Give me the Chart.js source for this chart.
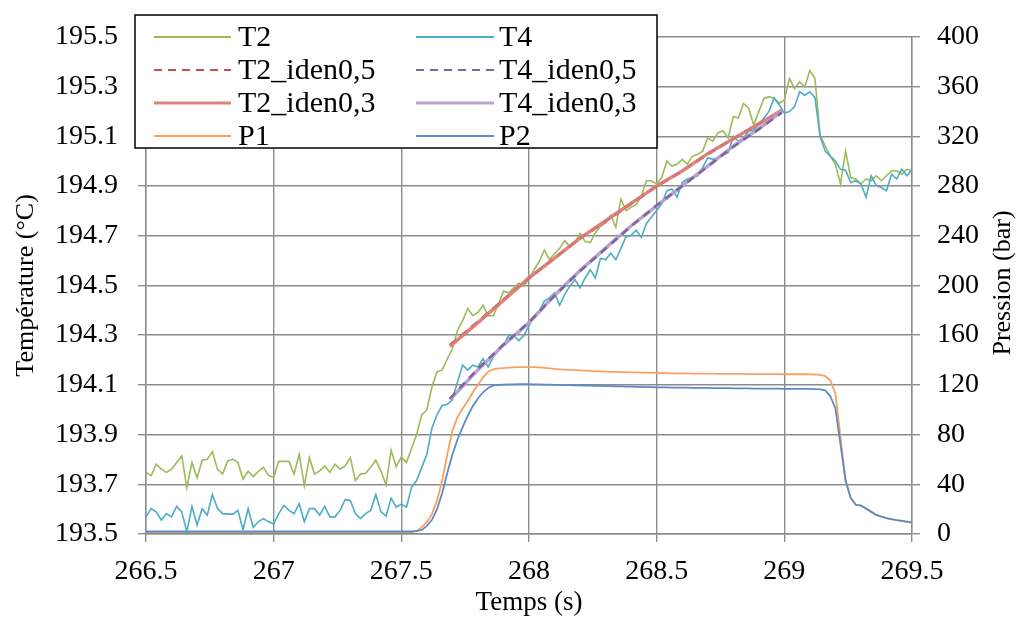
<!DOCTYPE html>
<html>
<head>
<meta charset="utf-8">
<script src="https://cdn.jsdelivr.net/npm/chart.js@4.4.1/dist/chart.umd.min.js"></script>
<style>
    html, body { margin: 0; padding: 0; background: #fff; }
    #wrap { width: 1023px; height: 619px; position: relative; }
</style>
</head>
<body>
<div id="wrap"><canvas id="myChart"></canvas></div>
<script>
// sampling: one point every 0.02 s from 266.5 s to 269.5 s
const t0 = 266.5;
const dt = 0.02;

// temperatures (°C)
const T2 = [
    193.748, 193.735, 193.781, 193.761, 193.748, 193.761, 193.788, 193.814, 193.686, 193.788,
    193.725, 193.797, 193.801, 193.831, 193.761, 193.741, 193.794, 193.801, 193.788, 193.721,
    193.752, 193.731, 193.752, 193.768, 193.735, 193.728, 193.792, 193.792, 193.792, 193.741,
    193.821, 193.695, 193.807, 193.741, 193.754, 193.774, 193.748, 193.781, 193.761, 193.774,
    193.807, 193.715, 193.741, 193.744, 193.768, 193.797, 193.754, 193.698, 193.837, 193.771,
    193.810, 193.788, 193.844, 193.900, 193.980, 194.000, 194.092, 194.152, 194.159, 194.205,
    194.245, 194.318, 194.358, 194.407, 194.378, 194.391, 194.420, 194.378, 194.378, 194.424,
    194.477, 194.470, 194.490, 194.510, 194.497, 194.525, 194.563, 194.596, 194.642, 194.605,
    194.627, 194.649, 194.680, 194.656, 194.672, 194.709, 194.676, 194.672, 194.712, 194.738,
    194.751, 194.782, 194.735, 194.848, 194.801, 194.815, 194.825, 194.861, 194.921, 194.921,
    194.908, 194.935, 195.000, 194.980, 194.987, 195.007, 194.987, 195.020, 195.027, 195.040,
    195.093, 195.080, 195.113, 195.122, 195.093, 195.179, 195.173, 195.232, 195.213, 195.146,
    195.199, 195.252, 195.259, 195.252, 195.232, 195.246, 195.332, 195.292, 195.318, 195.298,
    195.365, 195.332, 195.106, 195.060, 195.020, 194.987, 194.908, 195.040, 194.934, 194.928,
    194.908, 194.928, 194.921, 194.941, 194.921, 194.941, 194.961, 194.961, 194.947, 194.967,
    194.961
];
const T4 = [
    193.569, 193.602, 193.589, 193.556, 193.582, 193.569, 193.611, 193.589, 193.509, 193.611,
    193.536, 193.602, 193.576, 193.659, 193.602, 193.582, 193.580, 193.580, 193.595, 193.516,
    193.602, 193.527, 193.549, 193.562, 193.549, 193.540, 193.582, 193.615, 193.595, 193.582,
    193.622, 193.549, 193.602, 193.602, 193.576, 193.611, 193.569, 193.569, 193.595, 193.638,
    193.635, 193.582, 193.562, 193.582, 193.595, 193.659, 193.590, 193.572, 193.644, 193.608,
    193.620, 193.608, 193.688, 193.715, 193.768, 193.821, 193.927, 193.980, 194.017, 194.022,
    194.040, 194.112, 194.179, 194.159, 194.179, 194.172, 194.205, 194.172, 194.212, 194.238,
    194.258, 194.298, 194.298, 194.278, 194.298, 194.338, 194.378, 194.397, 194.437, 194.450,
    194.470, 194.420, 194.464, 194.497, 194.523, 194.490, 194.530, 194.563, 194.530, 194.609,
    194.603, 194.629, 194.603, 194.649, 194.696, 194.702, 194.722, 194.693, 194.749, 194.775,
    194.801, 194.828, 194.881, 194.888, 194.855, 194.914, 194.928, 194.934, 194.941, 194.974,
    195.014, 195.007, 195.014, 195.027, 195.034, 195.100, 195.080, 195.093, 195.120, 195.126,
    195.146, 195.173, 195.200, 195.255, 195.226, 195.193, 195.199, 195.219, 195.279, 195.265,
    195.279, 195.255, 195.100, 195.040, 195.020, 195.000, 194.967, 194.963, 194.914, 194.921,
    194.908, 194.855, 194.941, 194.901, 194.894, 194.881, 194.947, 194.928, 194.967, 194.941,
    194.967
];

// identified temperatures
const idenTemps = [267.69, 267.8, 267.9, 268.0, 268.1, 268.2, 268.3, 268.4, 268.5, 268.6, 268.7, 268.8, 268.9, 268.99];
const T2_iden05 = [194.260, 194.355, 194.443, 194.530, 194.610, 194.688, 194.758, 194.828, 194.898, 194.960, 195.028, 195.090, 195.150, 195.200];
const T2_iden03 = [194.255, 194.350, 194.440, 194.530, 194.610, 194.690, 194.760, 194.830, 194.900, 194.960, 195.030, 195.090, 195.150, 195.205];
const T4_iden05 = [194.045, 194.165, 194.262, 194.352, 194.458, 194.558, 194.648, 194.738, 194.822, 194.900, 194.978, 195.058, 195.128, 195.195];
const T4_iden03 = [194.040, 194.160, 194.260, 194.350, 194.460, 194.560, 194.650, 194.740, 194.820, 194.900, 194.980, 195.060, 195.130, 195.200];

// pressures (bar)
const P1 = [
    1.5, 1.5, 1.5, 1.5, 1.5, 1.5, 1.5, 1.5, 1.5, 1.5,
    1.5, 1.5, 1.5, 1.5, 1.5, 1.5, 1.5, 1.5, 1.5, 1.5,
    1.5, 1.5, 1.5, 1.5, 1.5, 1.5, 1.5, 1.5, 1.5, 1.5,
    1.5, 1.5, 1.5, 1.5, 1.5, 1.5, 1.5, 1.5, 1.5, 1.5,
    1.5, 1.5, 1.5, 1.5, 1.5, 1.5, 1.5, 1.5, 1.5, 1.5,
    1.5, 1.5, 1.6, 2.5, 5.5, 9.5, 16, 27, 43, 64,
    83, 94, 101, 107, 114, 120, 126, 130.5, 132.5, 133.2,
    133.5, 133.8, 134, 134.2, 134.3, 134.3, 134.2, 134, 133.6, 133.2,
    132.8, 132.5, 132.2, 132, 131.8, 131.6, 131.4, 131.2, 131, 130.8,
    130.6, 130.5, 130.4, 130.3, 130.2, 130.1, 130, 129.9, 129.8, 129.7,
    129.6, 129.5, 129.4, 129.3, 129.3, 129.2, 129.2, 129.1, 129.1, 129.0,
    129.0, 129.0, 128.9, 128.9, 128.9, 128.8, 128.8, 128.8, 128.7, 128.7,
    128.7, 128.6, 128.6, 128.6, 128.6, 128.5, 128.5, 128.5, 128.5, 128.5,
    128.4, 128.3, 128.0, 127.0, 123.5, 113, 78, 42, 29, 23.5,
    23, 20.5, 18, 15.5, 14, 12.8, 11.8, 11.1, 10.5, 9.8,
    9.0
];
const P2 = [
    2.0, 2.0, 2.0, 2.0, 2.0, 2.0, 2.0, 2.0, 2.0, 2.0,
    2.0, 2.0, 2.0, 2.0, 2.0, 2.0, 2.0, 2.0, 2.0, 2.0,
    2.0, 2.0, 2.0, 2.0, 2.0, 2.0, 2.0, 2.0, 2.0, 2.0,
    2.0, 2.0, 2.0, 2.0, 2.0, 2.0, 2.0, 2.0, 2.0, 2.0,
    2.0, 2.0, 2.0, 2.0, 2.0, 2.0, 2.0, 2.0, 2.0, 2.0,
    2.0, 2.0, 2.0, 2.3, 3.3, 6.5, 11.5, 20, 33, 49,
    64, 76, 86, 95, 103, 109, 114, 117.5, 119.5, 120,
    120.2, 120.3, 120.4, 120.5, 120.5, 120.5, 120.4, 120.3, 120.2, 120.1,
    120, 119.9, 119.8, 119.7, 119.6, 119.5, 119.4, 119.3, 119.2, 119.1,
    119, 118.9, 118.8, 118.7, 118.6, 118.5, 118.4, 118.3, 118.2, 118.1,
    118.0, 117.9, 117.9, 117.8, 117.8, 117.7, 117.7, 117.6, 117.6, 117.5,
    117.5, 117.4, 117.4, 117.3, 117.3, 117.2, 117.2, 117.1, 117.1, 117.0,
    117.0, 117.0, 116.9, 116.9, 116.9, 116.8, 116.8, 116.8, 116.7, 116.7,
    116.7, 116.6, 116.4, 115.5, 111, 101, 72, 43, 29, 23.5,
    22.8, 20.5, 17.8, 15.3, 14, 12.8, 11.9, 11.2, 10.6, 10,
    9.3
];

function sampled(vals) {
    return vals.map((v, i) => ({ x: +(t0 + i * dt).toFixed(2), y: v }));
}
function pairs(xs, ys) {
    return xs.map((x, i) => ({ x: x, y: ys[i] }));
}

const serif = "'Liberation Serif', 'Times New Roman', serif";
const gridColor = '#8c8c8c';

// legend drawn as a boxed 2-column table over the plot, plus right axis title
const legendBox = {
    id: 'legendBox',
    afterDraw(chart) {
        const ctx = chart.ctx;
        const sets = chart.data.datasets;
        ctx.save();
        ctx.fillStyle = '#fff';
        ctx.fillRect(135, 15, 522, 133);
        ctx.strokeStyle = '#000';
        ctx.lineWidth = 1.5;
        ctx.strokeRect(135, 15, 522, 133);

        ctx.font = '30px ' + serif;
        ctx.textBaseline = 'middle';
        ctx.textAlign = 'left';
        const rows = [37, 70, 103, 136];
        const cols = [[154, 231, 238], [416, 494, 499]];
        sets.forEach((ds, i) => {
            const r = rows[Math.floor(i / 2)];
            const c = cols[i % 2];
            ctx.beginPath();
            ctx.strokeStyle = ds.legendColor || ds.borderColor;
            ctx.lineWidth = ds.legendWidth || 2;
            ctx.setLineDash(ds.borderDash || []);
            ctx.moveTo(c[0], r);
            ctx.lineTo(c[1], r);
            ctx.stroke();
            ctx.setLineDash([]);
            ctx.fillStyle = '#000';
            ctx.fillText(ds.label, c[2], r + 1);
        });

        // right axis title, reading bottom to top
        ctx.translate(1003, 283);
        ctx.rotate(-Math.PI / 2);
        ctx.textAlign = 'center';
        ctx.font = '26px ' + serif;
        ctx.fillText('Pression (bar)', 0, 0);
        ctx.restore();
    }
};

const data = {
    datasets: [
        { label: 'T2', data: sampled(T2), borderColor: '#9BBB59', borderWidth: 1.6, order: 5 },
        { label: 'T4', data: sampled(T4), borderColor: '#4BACC6', borderWidth: 1.6, order: 4 },
        { label: 'T2_iden0,5', data: pairs(idenTemps, T2_iden05), borderColor: '#C0504D', borderWidth: 2.5, borderDash: [8, 6], order: 3 },
        { label: 'T4_iden0,5', data: pairs(idenTemps, T4_iden05), borderColor: '#8064A2', borderWidth: 2.5, borderDash: [8, 6], order: 0 },
        { label: 'T2_iden0,3', data: pairs(idenTemps, T2_iden03), borderColor: 'rgba(218,120,117,0.92)', borderWidth: 3.5, order: 2, legendWidth: 3 },
        { label: 'T4_iden0,3', data: pairs(idenTemps, T4_iden03), borderColor: 'rgba(178,160,205,0.95)', borderWidth: 3.5, order: 1, legendWidth: 3 },
        { label: 'P1', data: sampled(P1), borderColor: '#F8A160', borderWidth: 1.8, yAxisID: 'y2', order: 7 },
        { label: 'P2', data: sampled(P2), borderColor: '#5B8CC8', borderWidth: 1.8, yAxisID: 'y2', order: 6 }
    ]
};

const config = {
    type: 'line',
    data: data,
    options: {
        responsive: true,
        maintainAspectRatio: false,
        animation: false,
        layout: { padding: { top: 31, left: 0, right: 0, bottom: 0 } },
        elements: {
            point: { radius: 0 },
            line: { tension: 0, fill: false }
        },
        plugins: {
            legend: { display: false },
            tooltip: { enabled: false }
        },
        scales: {
            x: {
                type: 'linear',
                min: 266.5,
                max: 269.5,
                ticks: {
                    stepSize: 0.5, color: '#000', font: { family: serif, size: 28 }, padding: 13, maxRotation: 0,
                    callback: v => String(+v.toFixed(1))
                },
                grid: { color: gridColor, lineWidth: 1.4, tickLength: 8 },
                border: { color: gridColor, width: 1.4 },
                title: { display: true, text: 'Temps (s)', color: '#000', font: { family: serif, size: 27 }, padding: { top: 0, bottom: 0 } },
                afterFit(scale) { scale.height = 85; }
            },
            y: {
                position: 'left',
                min: 193.5,
                max: 195.5,
                ticks: {
                    stepSize: 0.2, color: '#000', font: { family: serif, size: 28 }, padding: 20,
                    callback: v => v.toFixed(1)
                },
                grid: { color: gridColor, lineWidth: 1.4, tickLength: 8 },
                border: { color: gridColor, width: 1.4 },
                title: { display: true, text: 'Température (°C)', color: '#000', font: { family: serif, size: 26 }, padding: { top: 11, bottom: 0 } },
                afterFit(scale) { scale.width = 146; }
            },
            y2: {
                position: 'right',
                min: 0,
                max: 400,
                ticks: { stepSize: 40, color: '#000', font: { family: serif, size: 28 }, padding: 17 },
                grid: { drawOnChartArea: false, color: gridColor, lineWidth: 1.4, tickLength: 8 },
                border: { color: gridColor, width: 1.4 },
                afterFit(scale) { scale.width = 111; }
            }
        }
    },
    plugins: [legendBox]
};

const chart = new Chart(document.getElementById('myChart'), config);
</script>
</body>
</html>
